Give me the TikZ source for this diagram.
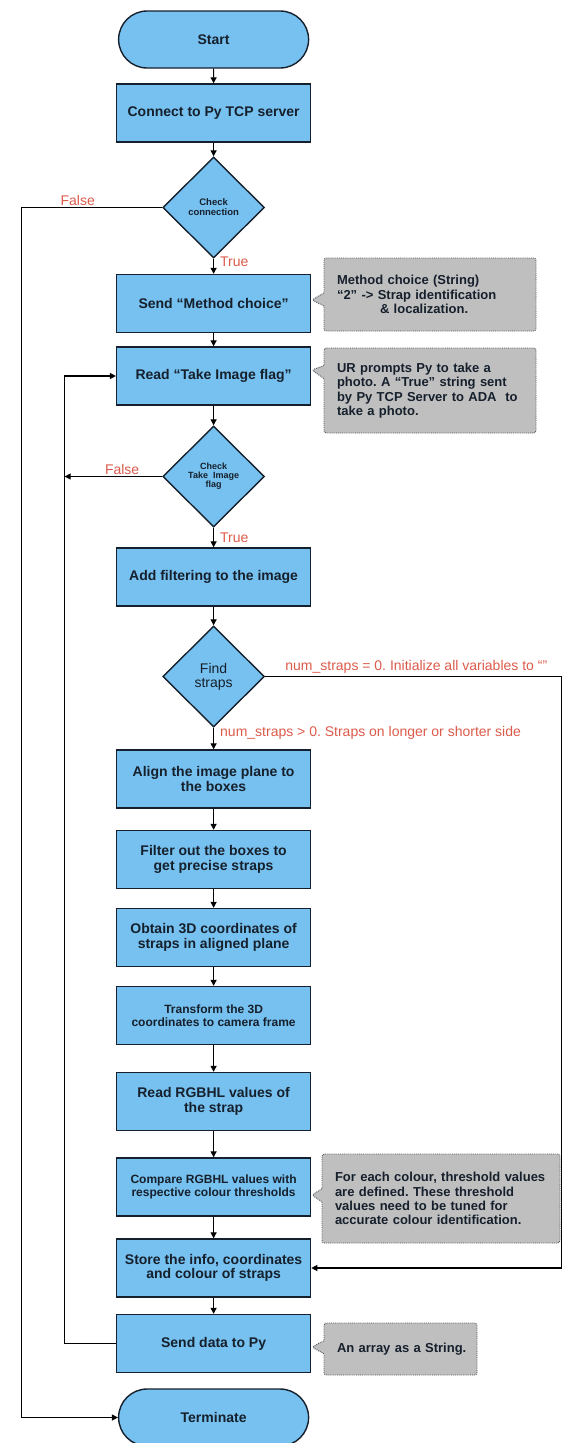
\documentclass[tikz,border=0pt]{standalone}
\usepackage{fontspec}
\setmainfont{Liberation Sans}
\usetikzlibrary{arrows.meta,shapes.geometric,shapes.misc,shapes.callouts}
\definecolor{boxblue}{HTML}{76C1F0}
\definecolor{notegray}{HTML}{BFBFBF}
\definecolor{lblred}{HTML}{DC5A4A}
\definecolor{ink}{HTML}{16202C}
\frenchspacing
\begin{document}
\begin{tikzpicture}[x=1pt,y=-1pt,
  proc/.style={rectangle, draw=ink, line width=1.4pt, fill=boxblue,
    minimum width=194pt, minimum height=58pt, inner sep=2pt, align=center,
    text=ink, font=\bfseries\fontsize{14}{14.5}\selectfont},
  procsm/.style={proc, font=\bfseries\fontsize{12}{13}\selectfont},
  terminal/.style={proc, rounded rectangle, minimum height=57pt},
  decision/.style={diamond, draw=ink, line width=1.4pt, fill=boxblue,
    minimum width=101.6pt, minimum height=101pt, inner sep=0pt,
    align=center, text=ink},
  note/.style={rectangle callout, draw=ink!75, densely dotted, line width=0.9pt,
    fill=notegray, rounded corners=2.5pt, callout pointer width=13pt,
    align=left, text=ink, inner xsep=13pt, inner ysep=2pt,
    font=\bfseries\fontsize{13}{14.3}\selectfont},
  arr/.style={draw=black, line width=1.2pt, -{Triangle[length=6pt,width=6pt]}},
  lbl/.style={text=lblred, font=\fontsize{14}{14}\selectfont, inner sep=1pt}
]
\useasboundingbox (0,0) rectangle (563,1443);

% main column
\node[terminal] (start)     at (213.6,39.5)   {Start};
\node[proc]     (connect)   at (213.6,113)    {Connect to Py TCP server};
\node[decision, font=\bfseries\fontsize{9.5}{10}\selectfont]
                (chkconn)   at (213.6,207.5)  {Check\\connection};
\node[proc]     (sendmc)    at (213.6,303.5)  {Send “Method choice”};
\node[proc]     (readflag)  at (213.6,376)    {Read “Take Image flag”};
\node[decision, font=\bfseries\fontsize{9}{9}\selectfont]
                (chkflag)   at (213.6,476.5)  {Check\\Take\ \ Image\\flag};
\node[proc]     (addfilt)   at (213.6,577)    {Add filtering to the image};
\node[decision, font=\fontsize{14}{14}\selectfont]
                (findst)    at (213.6,676.5)  {Find\\straps};
\node[proc]     (alignpl)   at (213.6,779)    {Align the image plane to\\the boxes};
\node[proc]     (filterbx)  at (213.6,859.5)  {Filter out the boxes to\\get precise straps};
\node[proc]     (obtain)    at (213.6,937.5)  {Obtain 3D coordinates of\\straps in aligned plane};
\node[procsm]   (transf)    at (213.6,1015.5) {Transform the 3D\\coordinates to camera frame};
\node[proc]     (readrgb)   at (213.6,1101.5) {Read RGBHL values of\\the strap};
\node[procsm]   (compare)   at (213.6,1187)   {Compare RGBHL values with\\respective colour thresholds};
\node[proc]     (store)     at (213.6,1268)   {Store the info, coordinates\\and colour of straps};
\node[proc]     (senddata)  at (213.6,1343.5) {Send data to Py};
\node[terminal] (terminate) at (213.6,1417.5) {Terminate};

% side notes
\node[note, minimum width=212pt, minimum height=73pt, text width=186pt,
      callout absolute pointer={([xshift=0.5pt,yshift=3.5pt]sendmc.east)}]
  (notemc) at (430,294.5)
  {\mbox{Method choice (String)}\\\mbox{“2” -> Strap identification}\\\mbox{\hspace*{43pt}\& localization.}};
\node[note, minimum width=212pt, minimum height=85pt, text width=186pt,
      callout absolute pointer={([xshift=0.5pt,yshift=6pt]readflag.east)}]
  (noteflag) at (430,390.5)
  {\mbox{UR prompts Py to take a}\\\mbox{photo. A “True” string sent}\\\mbox{by Py TCP Server to ADA\ \ to}\\\mbox{take a photo.}};
\node[note, minimum width=238pt, minimum height=89pt, text width=212pt,
      callout absolute pointer={([xshift=0.5pt,yshift=-8pt]compare.east)}]
  (notethr) at (441,1198.5)
  {\mbox{For each colour, threshold values}\\\mbox{are defined. These threshold}\\\mbox{values need to be tuned for}\\\mbox{accurate colour identification.}};
\node[note, minimum width=153pt, minimum height=52pt, text width=127pt,
      callout absolute pointer={([xshift=0.5pt,yshift=-3.5pt]senddata.east)}]
  (notearr) at (400.5,1349)
  {\mbox{An array as a String.}};

% routing corners
\coordinate (outerL) at (21.5,207.5);
\coordinate (innerB) at (64.6,1343.5);
\coordinate (rightT) at (561.5,676.5);

% connectors
\draw[arr] (start) -- (connect);
\draw[arr] (connect) -- (chkconn);
\draw[arr] (chkconn) -- node[lbl, anchor=west, pos=0.2, xshift=5pt] (trueA) {True} (sendmc);
\draw[arr] (chkconn.west) -- node[lbl, above, pos=0.6] (falseA) {False} (outerL) |- (terminate.west);
\draw[arr] (sendmc) -- (readflag);
\draw[arr] (readflag) -- (chkflag);
\draw[arr] (chkflag.west) -- node[lbl, above, pos=0.41] (falseB) {False} (chkflag.west -| innerB);
\draw[arr] (chkflag) -- node[lbl, anchor=west, pos=0.5, xshift=5pt] (trueB) {True} (addfilt);
\draw[arr] (addfilt) -- (findst);
\draw[arr] (findst.east) -- node[lbl, anchor=south west, pos=0.063, yshift=2pt] (zeroLbl)
  {num\_straps = 0. Initialize all variables to “”} (rightT) |- (store.east);
\draw[arr] (findst) -- node[lbl, anchor=west, pos=0.22, xshift=5pt] (posLbl)
  {num\_straps > 0. Straps on longer or shorter side} (alignpl);
\draw[arr] (alignpl) -- (filterbx);
\draw[arr] (filterbx) -- (obtain);
\draw[arr] (obtain) -- (transf);
\draw[arr] (transf) -- (readrgb);
\draw[arr] (readrgb) -- (compare);
\draw[arr] (compare) -- (store);
\draw[arr] (store) -- (senddata);
\draw[arr] (senddata.west) -- (innerB) |- (readflag.west);
\end{tikzpicture}
\end{document}
